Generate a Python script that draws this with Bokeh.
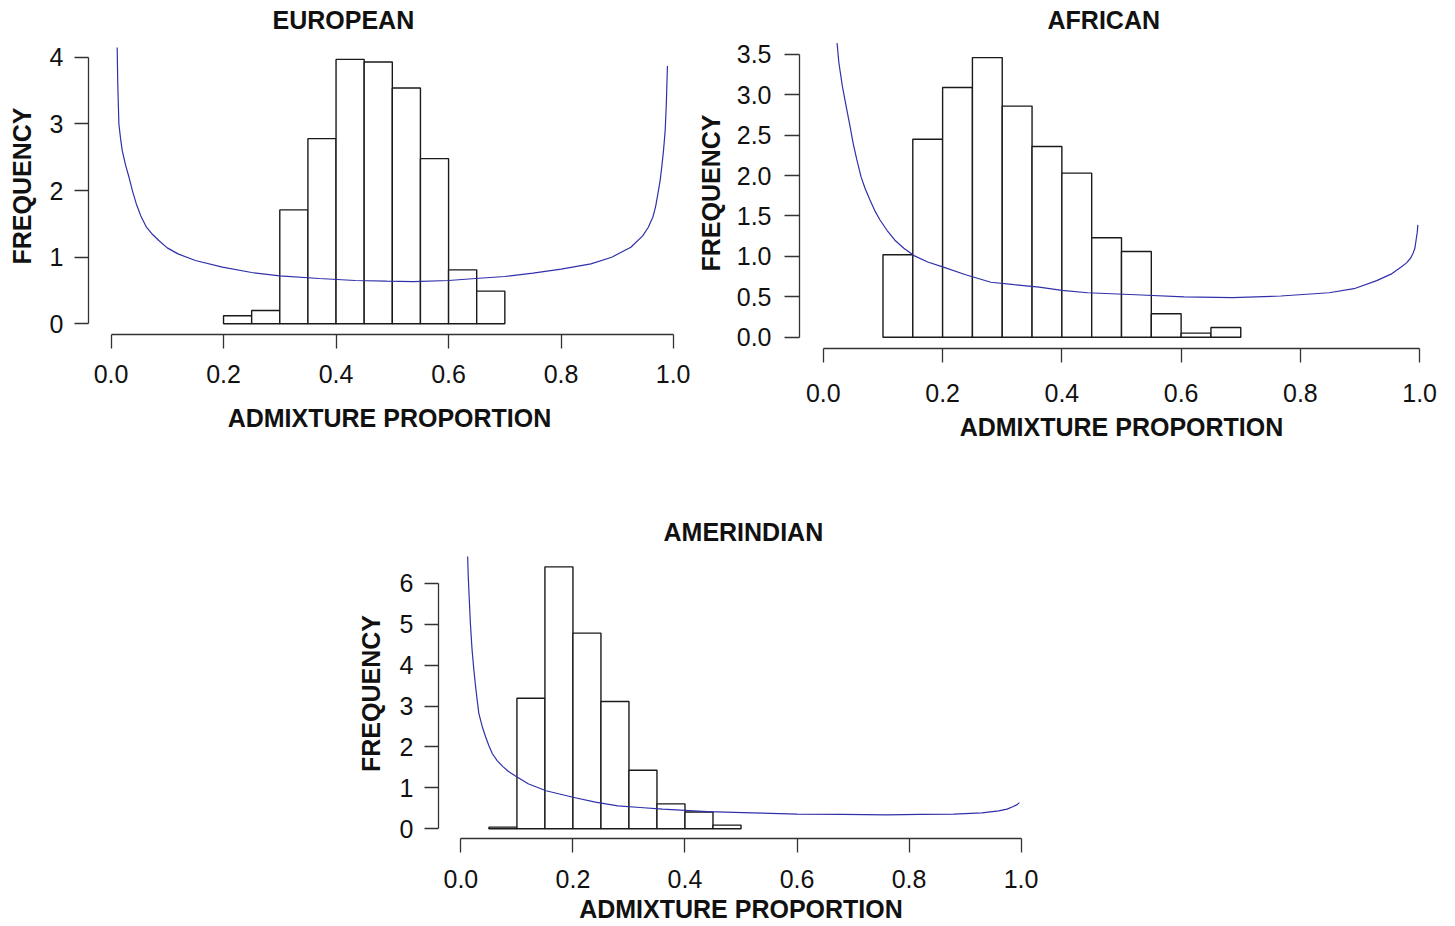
from bokeh.plotting import figure
from bokeh.models import Range1d, FixedTicker, NumeralTickFormatter, Spacer, ColumnDataSource
from bokeh.layouts import row, column
from bokeh.embed import file_html
from bokeh.resources import INLINE

# ---------------- data ----------------
x_ticks = [0.0, 0.2, 0.4, 0.6, 0.8, 1.0]

eur_edges = [0.20, 0.25, 0.30, 0.35, 0.40, 0.45, 0.50, 0.55, 0.60, 0.65, 0.70]
eur_density = [0.12, 0.20, 1.71, 2.78, 3.97, 3.93, 3.54, 2.48, 0.81, 0.49]
eur_curve_x = [0.011, 0.012, 0.014, 0.017, 0.020, 0.026, 0.032, 0.038, 0.045, 0.053, 0.063, 0.074,
               0.085, 0.100, 0.119, 0.150, 0.198, 0.250, 0.300, 0.370, 0.434, 0.490, 0.537, 0.600,
               0.648, 0.700, 0.750, 0.800, 0.853, 0.890, 0.924, 0.945, 0.955, 0.963, 0.968, 0.972,
               0.976, 0.979, 0.982, 0.985, 0.987, 0.989]
eur_curve_y = [4.15, 3.60, 3.00, 2.78, 2.60, 2.38, 2.20, 2.00, 1.80, 1.62, 1.45, 1.34,
               1.25, 1.14, 1.05, 0.95, 0.85, 0.77, 0.72, 0.68, 0.65, 0.64, 0.634, 0.65,
               0.68, 0.71, 0.76, 0.82, 0.90, 1.00, 1.15, 1.32, 1.45, 1.60, 1.76, 1.95,
               2.15, 2.36, 2.60, 2.90, 3.30, 3.87]
eur_y_ticks = [0, 1, 2, 3, 4]

afr_edges = [0.10, 0.15, 0.20, 0.25, 0.30, 0.35, 0.40, 0.45, 0.50, 0.55, 0.60, 0.65, 0.70]
afr_density = [1.02, 2.45, 3.09, 3.46, 2.86, 2.36, 2.03, 1.23, 1.06, 0.29, 0.05, 0.12]
afr_curve_x = [0.023, 0.026, 0.029, 0.032, 0.039, 0.045, 0.050, 0.056, 0.063, 0.070, 0.078, 0.086,
               0.095, 0.107, 0.120, 0.135, 0.152, 0.175, 0.200, 0.240, 0.281, 0.320, 0.362, 0.400,
               0.443, 0.524, 0.605, 0.686, 0.767, 0.848, 0.890, 0.928, 0.952, 0.969, 0.978, 0.985,
               0.989, 0.992, 0.994, 0.996, 0.997]
afr_curve_y = [3.64, 3.40, 3.25, 3.10, 2.83, 2.60, 2.40, 2.20, 1.99, 1.84, 1.70, 1.57,
               1.45, 1.32, 1.20, 1.10, 1.01, 0.93, 0.87, 0.77, 0.68, 0.65, 0.62, 0.58,
               0.55, 0.525, 0.50, 0.49, 0.51, 0.55, 0.60, 0.70, 0.78, 0.87, 0.92, 0.98,
               1.04, 1.10, 1.20, 1.30, 1.39]
afr_y_ticks = [0.0, 0.5, 1.0, 1.5, 2.0, 2.5, 3.0, 3.5]

ame_edges = [0.05, 0.10, 0.15, 0.20, 0.25, 0.30, 0.35, 0.40, 0.45, 0.50]
ame_density = [0.04, 3.19, 6.40, 4.78, 3.11, 1.43, 0.61, 0.41, 0.09]
ame_curve_x = [0.012, 0.013, 0.015, 0.017, 0.020, 0.023, 0.026, 0.029, 0.032, 0.038, 0.044, 0.050,
               0.056, 0.065, 0.075, 0.085, 0.096, 0.120, 0.152, 0.200, 0.240, 0.280, 0.320, 0.360,
               0.440, 0.520, 0.600, 0.680, 0.760, 0.820, 0.880, 0.930, 0.960, 0.975, 0.985, 0.993,
               0.997]
ame_curve_y = [6.65, 6.20, 5.59, 5.00, 4.36, 3.90, 3.50, 3.15, 2.82, 2.50, 2.25, 2.03,
               1.84, 1.66, 1.52, 1.40, 1.30, 1.10, 0.93, 0.77, 0.65, 0.56, 0.52, 0.48,
               0.42, 0.39, 0.36, 0.35, 0.34, 0.35, 0.36, 0.39, 0.44, 0.48, 0.54, 0.59,
               0.64]
ame_y_ticks = [0, 1, 2, 3, 4, 5, 6]

x_label = "ADMIXTURE PROPORTION"
y_label = "FREQUENCY"

# ---------------- style ----------------
FONT = "Liberation Sans"
BLUE = "#3030aa"
INK = "#1a1a1a"
AX = "#333333"


def panel(title, title_offset, title_standoff, edges, dens, cx, cy, yticks, yfmt, x_end,
          y_range, frame_w, frame_h, borders, y_std, y_als, y_tick, x_std, x_als):
    left, right, top, bottom = borders
    p = figure(frame_width=frame_w, frame_height=frame_h,
               min_border_left=left, min_border_right=right,
               min_border_top=top, min_border_bottom=bottom,
               x_range=Range1d(-0.04, x_end), y_range=Range1d(*y_range),
               output_backend="svg", toolbar_location=None,
               background_fill_color="white", border_fill_color="white")
    p.outline_line_color = None
    p.grid.visible = False

    p.title.text = title
    p.title.align = "left"
    p.title.offset = title_offset
    p.title.standoff = title_standoff
    p.title.vertical_align = "top"
    p.title.text_font = FONT
    p.title.text_font_size = "25px"
    p.title.text_font_style = "bold"
    p.title.text_color = "#111111"

    src = ColumnDataSource(dict(left=edges[:-1], right=edges[1:], top=dens,
                                bottom=[0] * len(dens)))
    p.quad(left="left", right="right", top="top", bottom="bottom", source=src,
           fill_color="white", line_color=INK, line_width=1.4)
    p.line(cx, cy, line_color=BLUE, line_width=1.2)

    for ax in (p.xaxis[0], p.yaxis[0]):
        ax.axis_line_color = AX
        ax.axis_line_width = 1.3
        ax.major_tick_line_color = AX
        ax.major_tick_line_width = 1.3
        ax.major_tick_in = 0
        ax.minor_tick_in = 0
        ax.minor_tick_out = 0
        ax.major_label_text_font = FONT
        ax.major_label_text_font_size = "25px"
        ax.major_label_text_color = "#111111"
        ax.axis_label_text_font = FONT
        ax.axis_label_text_font_size = "25px"
        ax.axis_label_text_font_style = "bold"
        ax.axis_label_text_color = "#111111"

    xa = p.xaxis[0]
    xa.bounds = (0, 1)
    xa.ticker = FixedTicker(ticks=x_ticks)
    xa.formatter = NumeralTickFormatter(format="0.0")
    xa.major_tick_out = 14
    xa.major_label_standoff = x_std
    xa.axis_label = x_label
    xa.axis_label_standoff = x_als

    ya = p.yaxis[0]
    ya.bounds = (yticks[0], yticks[-1])
    ya.ticker = FixedTicker(ticks=yticks)
    ya.formatter = NumeralTickFormatter(format=yfmt)
    ya.major_tick_out = y_tick
    ya.major_label_standoff = y_std
    ya.axis_label = y_label
    ya.axis_label_standoff = y_als
    return p


ROW1_H = 500
p1 = panel("EUROPEAN", 184, 4, eur_edges, eur_density, eur_curve_x, eur_curve_y,
           eur_y_ticks, "0", 1.03, (-0.1607, 4.2988), 602, 297,
           (88, 0, 37, ROW1_H - 334), 11, 11, 14, 16, 18)
p2 = panel("AFRICAN", 248, 4, afr_edges, afr_density, afr_curve_x, afr_curve_y,
           afr_y_ticks, "0.0", 1.04, (-0.1399, 3.709), 644, 311,
           (109, 4, 37, ROW1_H - 348), 13, 9, 15, 21, 8)
p3 = panel("AMERINDIAN", 225, 2, ame_edges, ame_density, ame_curve_x, ame_curve_y,
           ame_y_ticks, "0", 1.04, (-0.237, 6.848), 605, 290,
           (90, 10, 548 - ROW1_H, 86), 11, 12, 14, 17, 4)

layout = column(row(p1, p2), row(Spacer(width=348, height=425), p3))

open("out.html", "w").write(file_html(layout, INLINE, "Admixture proportions"))
